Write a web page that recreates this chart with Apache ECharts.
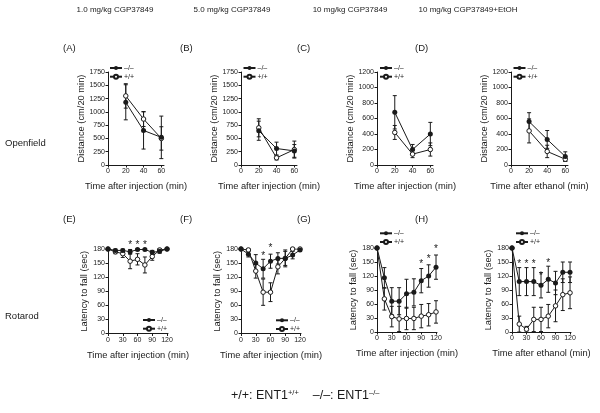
<!DOCTYPE html>
<html>
<head>
<meta charset="utf-8">
<script src="https://cdn.jsdelivr.net/npm/echarts@6/dist/echarts.min.js"></script>
<style>
  html, body { margin: 0; padding: 0; background: #fff; }
  #chart { width: 600px; height: 413px; }
</style>
</head>
<body>
<div id="chart"></div>
<script>
// ---------- data ----------
let openTimes = [20, 40, 60];
let rotaTimes = [0, 15, 30, 45, 60, 75, 90, 105, 120];

// openfield, mean and sem
let aKO = [1180, 650, 520],  aKOerr = [330, 350, 400];
let aWT = [1300, 865, 500],  aWTerr = [230, 140, 220];
let bKO = [645, 310, 265],   bKOerr = [180, 120, 120];
let bWT = [700, 135, 290],   bWTerr = [170, 40, 160];
let cKO = [680, 200, 400],   cKOerr = [215, 65, 150];
let cWT = [420, 140, 200],   cWTerr = [90, 45, 85];
let dKO = [560, 330, 110],   dKOerr = [115, 115, 60];
let dWT = [440, 175, 75],    dWTerr = [155, 80, 30];

// rotarod, mean and sem
let eKO = [180, 177, 177, 174, 179, 179, 173, 175, 180], eKOerr = [0, 3, 3, 5, 2, 2, 4, 4, 1];
let eWT = [180, 174, 170, 154, 158, 146, 164, 178, 180], eWTerr = [0, 4, 8, 16, 12, 17, 8, 3, 1];
let fKO = [180, 169, 150, 138, 154, 160, 160, 167, 178], fKOerr = [0, 6, 18, 20, 15, 12, 15, 8, 3];
let fWT = [180, 178, 133, 88, 88, 142, 160, 180, 180],   fWTerr = [0, 3, 15, 28, 20, 15, 18, 2, 2];
let gKO = [180, 116, 66, 66, 82, 85, 110, 120, 139],     gKOerr = [0, 22, 29, 29, 31, 29, 26, 24, 26];
let gWT = [180, 71, 33, 28, 29, 29, 34, 37, 43],         gWTerr = [0, 24, 22, 27, 24, 24, 25, 24, 24];
let hKO = [180, 108, 108, 108, 100, 113, 105, 128, 128], hKOerr = [0, 30, 30, 30, 27, 28, 25, 22, 22];
let hWT = [180, 17, 6, 27, 27, 34, 56, 80, 84],          hWTerr = [0, 17, 6, 26, 26, 25, 34, 34, 34];

// significance stars [time, level]
let eStars = [[45, 193], [60, 193], [75, 193]];
let fStars = [[45, 169], [60, 185]];
let gStars = [[90, 150], [105, 160], [120, 182]];
let hStars = [[15, 150], [30, 150], [45, 150], [60, 123], [75, 151]];

let colTitles = ['1.0 mg/kg CGP37849', '5.0 mg/kg CGP37849', '10 mg/kg CGP37849', '10 mg/kg CGP37849+EtOH'];
let KO = '\u2013/\u2013', WT = '+/+';

// ---------- layout ----------
const FONT = 'Liberation Sans, Arial, sans-serif';
const INK = '#1a1a1a';

let panels = [
  {ko: aKO, koE: aKOerr, wt: aWT, wtE: aWTerr, x: openTimes, stars: [], left: 108, top: 72, w: 56, h: 93, yMax: 1750, yInt: 250, xMax: 63, xTicks: [0, 20, 40, 60], yName: 'Distance (cm/20 min)', xName: 'Time after injection (min)', lg: [109, 64.5]},
  {ko: bKO, koE: bKOerr, wt: bWT, wtE: bWTerr, x: openTimes, stars: [], left: 241, top: 72, w: 56, h: 93, yMax: 1750, yInt: 250, xMax: 63, xTicks: [0, 20, 40, 60], yName: 'Distance (cm/20 min)', xName: 'Time after injection (min)', lg: [242.5, 64.5]},
  {ko: cKO, koE: cKOerr, wt: cWT, wtE: cWTerr, x: openTimes, stars: [], left: 377, top: 72, w: 56, h: 93, yMax: 1200, yInt: 200, xMax: 63, xTicks: [0, 20, 40, 60], yName: 'Distance (cm/20 min)', xName: 'Time after injection (min)', lg: [379, 64.5]},
  {ko: dKO, koE: dKOerr, wt: dWT, wtE: dWTerr, x: openTimes, stars: [], left: 511, top: 72, w: 57, h: 93, yMax: 1200, yInt: 200, xMax: 63, xTicks: [0, 20, 40, 60], yName: 'Distance (cm/20 min)', xName: 'Time after ethanol (min)', lg: [512.5, 64.5]},
  {ko: eKO, koE: eKOerr, wt: eWT, wtE: eWTerr, x: rotaTimes, stars: eStars, left: 108, top: 249, w: 60, h: 84.5, yMax: 180, yInt: 30, xMax: 122, xTicks: [0, 30, 60, 90, 120], yName: 'Latency to fall (sec)', xName: 'Time after injection (min)', lg: [142, 316.5]},
  {ko: fKO, koE: fKOerr, wt: fWT, wtE: fWTerr, x: rotaTimes, stars: fStars, left: 241, top: 249, w: 60, h: 84.5, yMax: 180, yInt: 30, xMax: 122, xTicks: [0, 30, 60, 90, 120], yName: 'Latency to fall (sec)', xName: 'Time after injection (min)', lg: [275, 316.8]},
  {ko: gKO, koE: gKOerr, wt: gWT, wtE: gWTerr, x: rotaTimes, stars: gStars, left: 377, top: 248, w: 60, h: 84, yMax: 180, yInt: 30, xMax: 122, xTicks: [0, 30, 60, 90, 120], yName: 'Latency to fall (sec)', xName: 'Time after injection (min)', lg: [379, 229.8]},
  {ko: hKO, koE: hKOerr, wt: hWT, wtE: hWTerr, x: rotaTimes, stars: hStars, left: 512, top: 248, w: 59, h: 84, yMax: 180, yInt: 30, xMax: 122, xTicks: [0, 30, 60, 90, 120], yName: 'Latency to fall (sec)', xName: 'Time after ethanol (min)', lg: [515, 229.8]}
];

function errBars(params, api) {
  let x = api.value(0), m = api.value(1), e = api.value(2);
  if (!e) return null;
  let t = api.coord([x, m + e]), b = api.coord([x, m - e]);
  let st = {stroke: INK, lineWidth: 1};
  return {type: 'group', children: [
    {type: 'line', shape: {x1: t[0], y1: t[1], x2: b[0], y2: b[1]}, style: st},
    {type: 'line', shape: {x1: t[0] - 2, y1: t[1], x2: t[0] + 2, y2: t[1]}, style: st},
    {type: 'line', shape: {x1: b[0] - 2, y1: b[1], x2: b[0] + 2, y2: b[1]}, style: st}
  ]};
}

function starMark(params, api) {
  let p = api.coord([api.value(0), api.value(1)]);
  return {type: 'text', z2: 10, style: {text: '*', x: p[0], y: p[1] + 2, fill: INK, fontSize: 10, fontFamily: FONT, align: 'center', verticalAlign: 'middle'}};
}

let grids = [], xAxes = [], yAxes = [], series = [], legends = [];
let axisLineStyle = {show: true, lineStyle: {color: INK, width: 1}};

panels.forEach(function(p, i) {
  grids.push({left: p.left, top: p.top, width: p.w, height: p.h});
  xAxes.push({
    type: 'value', gridIndex: i, min: 0, max: p.xMax,
    name: p.xName, nameLocation: 'middle', nameGap: 17,
    nameTextStyle: {fontSize: 9.3, fontFamily: FONT, color: INK},
    axisLine: axisLineStyle,
    axisTick: {show: true, length: 2.5, customValues: p.xTicks, lineStyle: {color: INK}},
    axisLabel: {customValues: p.xTicks, fontSize: 7, fontFamily: FONT, color: INK, margin: 3},
    splitLine: {show: false}
  });
  yAxes.push({
    type: 'value', gridIndex: i, min: 0, max: p.yMax, interval: p.yInt,
    name: p.yName, nameLocation: 'middle', nameGap: p.yMax > 1000 ? 22 : 18,
    nameTextStyle: {fontSize: 9.3, fontFamily: FONT, color: INK},
    axisLine: axisLineStyle,
    axisTick: {show: true, length: 2.5, lineStyle: {color: INK}},
    axisLabel: {fontSize: 7, fontFamily: FONT, color: INK, margin: 3, formatter: v => String(v)},
    splitLine: {show: false}
  });

  let ko = p.x.map((t, k) => [t, p.ko[k]]);
  let wt = p.x.map((t, k) => [t, p.wt[k]]);
  series.push({type: 'custom', xAxisIndex: i, yAxisIndex: i, renderItem: errBars, z: 1, silent: true,
    data: p.x.map((t, k) => [t, p.ko[k], p.koE[k]])});
  series.push({type: 'custom', xAxisIndex: i, yAxisIndex: i, renderItem: errBars, z: 1, silent: true,
    data: p.x.map((t, k) => [t, p.wt[k], p.wtE[k]])});
  series.push({name: WT, type: 'line', xAxisIndex: i, yAxisIndex: i, data: wt, z: 3,
    symbol: 'circle', symbolSize: 4.5, animation: false,
    lineStyle: {color: INK, width: 1},
    itemStyle: {color: '#fff', borderColor: INK, borderWidth: 1}});
  series.push({name: KO, type: 'line', xAxisIndex: i, yAxisIndex: i, data: ko, z: 4,
    symbol: 'circle', symbolSize: 5, animation: false,
    lineStyle: {color: INK, width: 1},
    itemStyle: {color: INK}});
  if (p.stars.length) {
    series.push({type: 'custom', xAxisIndex: i, yAxisIndex: i, renderItem: starMark, z: 6, silent: true, data: p.stars});
  }
  legends.push({
    left: p.lg[0], top: p.lg[1], orient: 'vertical', padding: 0,
    itemWidth: 12, itemHeight: 5, itemGap: 1.7,
    data: [KO, WT], selectedMode: false,
    textStyle: {fontSize: 7, fontFamily: FONT, color: INK, padding: [0, 0, 0, -3]}
  });
});

let colX = [115, 232, 350, 468];
let letterX = [63, 180, 297, 415];
let graphics = [];
colTitles.forEach(function(t, k) {
  graphics.push({type: 'text', x: colX[k], y: 10, style: {text: t, fontSize: 8, fontFamily: FONT, fill: INK, align: 'center', verticalAlign: 'middle'}});
  graphics.push({type: 'text', x: letterX[k], y: 48, style: {text: '(' + 'ABCD'[k] + ')', fontSize: 9.5, fontFamily: FONT, fill: INK, verticalAlign: 'middle'}});
  graphics.push({type: 'text', x: letterX[k], y: 219, style: {text: '(' + 'EFGH'[k] + ')', fontSize: 9.5, fontFamily: FONT, fill: INK, verticalAlign: 'middle'}});
});
graphics.push({type: 'text', x: 5, y: 143, style: {text: 'Openfield', fontSize: 9.5, fontFamily: FONT, fill: INK, verticalAlign: 'middle'}});
graphics.push({type: 'text', x: 5, y: 316, style: {text: 'Rotarod', fontSize: 9.5, fontFamily: FONT, fill: INK, verticalAlign: 'middle'}});
graphics.push({type: 'text', x: 231, y: 396, style: {
  text: '+/+: ENT1{s|+/+}    \u2013/\u2013: ENT1{s|\u2013/\u2013}',
  fontSize: 12.5, fontFamily: FONT, fill: INK, verticalAlign: 'middle',
  rich: {s: {fontSize: 7.5, fontFamily: FONT, fill: INK, verticalAlign: 'top', padding: [0, 0, 6, 0]}}
}});

let myChart = echarts.init(document.getElementById('chart'), null, {renderer: 'canvas'});
myChart.setOption({
  animation: false,
  backgroundColor: '#fff',
  grid: grids,
  xAxis: xAxes,
  yAxis: yAxes,
  legend: legends,
  series: series,
  graphic: graphics
});
</script>
</body>
</html>
